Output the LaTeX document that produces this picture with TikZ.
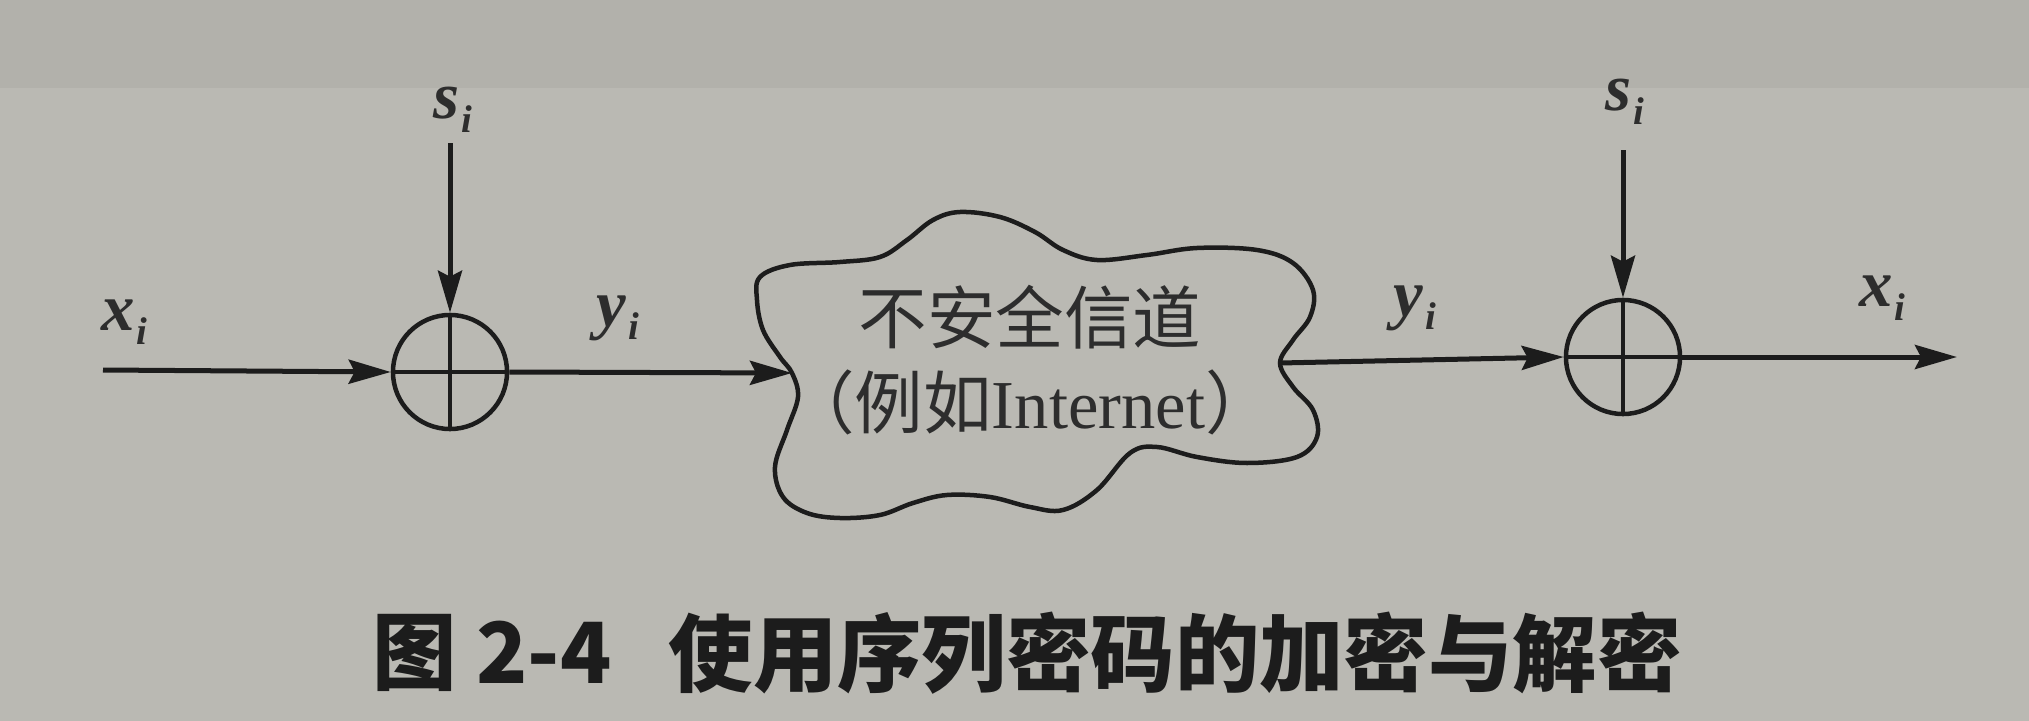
\documentclass[tikz,border=0pt]{standalone}
\usepackage{fontspec}
\setmainfont{Liberation Serif}
\newfontfamily\cjk{Noto Sans CJK SC}
\usetikzlibrary{arrows.meta}
\definecolor{paper}{RGB}{186,185,179}
\definecolor{paperdark}{RGB}{178,177,171}
\definecolor{ink}{RGB}{28,28,28}
\definecolor{textink}{RGB}{45,45,45}
\newcommand\lbl[2]{\textbf{\textit{#1}}\kern0.5pt\raisebox{-0.45ex}{\fontsize{11}{11}\selectfont\textbf{\textit{#2}}}}
\begin{document}
\begin{tikzpicture}[x=0.01cm,y=-0.01cm,
  xorc/.style={circle,draw=ink,line width=0.045cm,minimum size=1.14cm,inner sep=0pt},
  wire/.style={draw=ink,line width=0.05cm},
  crossl/.style={draw=ink,line width=0.035cm},
  arr/.style={wire,-{Stealth[length=0.42cm,width=0.24cm,inset=0.06cm]}},
  sym/.style={text=textink,font=\fontsize{19}{19}\selectfont,inner sep=0pt},
  chantext/.style={text=textink,inner sep=0pt,align=center,font=\cjk\fontsize{19.5}{24.2}\selectfont},
  captext/.style={text=ink,inner sep=0pt,anchor=west,font=\cjk\bfseries\fontsize{24}{24}\selectfont}]
\fill[paper] (0,0) rectangle (2029,721);
\fill[paperdark] (0,0) rectangle (2029,88);
\useasboundingbox (0,0) rectangle (2029,721);

% cloud (insecure channel)
\draw[ink,line width=0.045cm] plot[smooth cycle,tension=0.6] coordinates {
 (760,277) (790,265) (840,262) (880,257) (907,240) (933,220) (960,212) (1000,217)
 (1035,232) (1063,250) (1097,260) (1147,255) (1197,248) (1257,250) (1293,263)
 (1313,290) (1310,317) (1293,340) (1280,363) (1293,387) (1313,410) (1317,437)
 (1297,457) (1247,463) (1197,457) (1157,447) (1130,453) (1097,490) (1063,510)
 (1030,507) (990,497) (947,495) (913,503) (880,515) (840,518) (807,513) (783,497)
 (775,467) (787,430) (798,397) (792,373) (780,357) (763,330) (757,300)};

\node[chantext] (chan) at (1030,360) {不安全信道\\（例如{\rmfamily Internet}）};

% XOR nodes
\node[xorc] (c1) at (450,372) {};
\node[xorc] (c2) at (1623,357) {};

\coordinate (xin) at (103,370);
\coordinate (s1top) at (450,143);
\coordinate (s2top) at (1623,150);
\coordinate (xout) at (1957,357);
\coordinate (cin) at (792,373);
\coordinate (cout) at (1280,363);

\draw[crossl] (c1.north) -- (c1.south) (c1.west) -- (c1.east);
\draw[crossl] (c2.north) -- (c2.south) (c2.west) -- (c2.east);

\draw[arr] (xin) -- (c1.west);
\draw[arr] (s1top) -- (c1.north);
\draw[arr] (c1.east) -- (cin);
\draw[arr] (cout) -- (c2.west);
\draw[arr] (s2top) -- (c2.north);
\draw[arr] (c2.east) -- (xout);

% labels
\node[sym] (lx1) at (124,322) {\lbl{x}{i}};
\node[sym] (ls1) at (453,110) {\lbl{s}{i}};
\node[sym] (ly1) at (618,318) {\lbl{y}{i}};
\node[sym] (ly2) at (1415,308) {\lbl{y}{i}};
\node[sym] (ls2) at (1625,102) {\lbl{s}{i}};
\node[sym] (lx2) at (1882,298) {\lbl{x}{i}};

% caption
\node[captext] (cap1) at (372,653) {图 2-4};
\node[captext] (cap2) at (668,653) {使用序列密码的加密与解密};
\end{tikzpicture}
\end{document}
